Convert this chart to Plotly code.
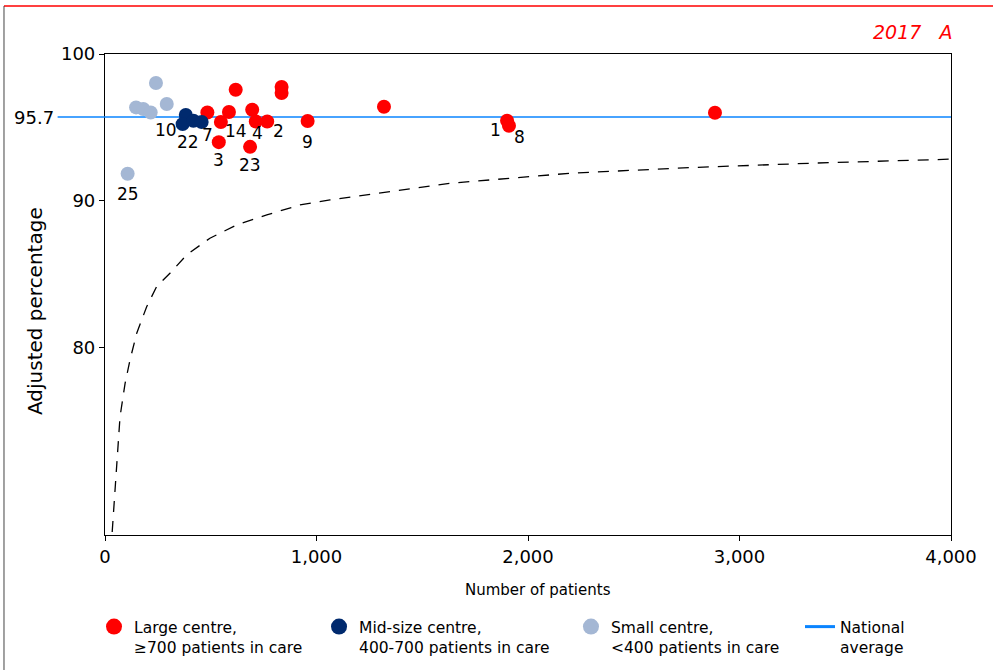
import plotly.graph_objects as go

# ---------------- data ----------------
NATIONAL_AVG = 95.7

large_x = [484, 548, 538, 618, 586, 696, 713, 767, 686, 835, 835, 958, 1319, 1901, 1910, 2884]
large_y = [96.01, 95.36, 93.99, 97.56, 96.04, 96.20, 95.40, 95.40, 93.67, 97.75, 97.34, 95.43, 96.40, 95.45, 95.11, 95.99]

mid_x = [382, 367, 418, 457]
mid_y = [95.84, 95.22, 95.45, 95.36]

small_x = [241, 147, 181, 216, 292, 107]
small_y = [98.02, 96.36, 96.25, 96.01, 96.59, 91.83]

# lower control limit (dashed curve)
limit_x = [34, 51, 71, 95, 118, 150, 197, 244, 307, 386, 496, 623, 765, 922, 1064, 1637, 2209, 2782, 3355, 4000]
limit_y = [67.41, 71.4, 75.26, 77.54, 79.13, 80.96, 82.77, 84.14, 85.05, 86.30, 87.44, 88.35, 89.03, 89.71, 90.05, 91.19, 91.88, 92.26, 92.56, 92.83]

# centre labels: text, anchor point
label_text = ["25", "10", "22", "7", "14", "4", "2", "3", "23", "9", "1", "8"]
label_x = [107, 367, 382, 484, 586, 713, 767, 538, 686, 958, 1901, 1910]
label_y = [91.83, 95.22, 95.84, 96.01, 96.04, 95.40, 95.40, 93.99, 93.67, 95.43, 95.45, 95.11]
label_dx = [0, -17, 2, 0, 7, 2, 11, 0, 0, 0, -12, 11]
label_dy = [-20, -6, -27, -22, -19, -12, -10, -18, -18, -21, -9, -11]

x_ticks = [0, 1000, 2000, 3000, 4000]
y_ticks = [80, 90, 100]

legend_names = ["Large centre,<br>≥700 patients in care",
                "Mid-size centre,<br>400-700 patients in care",
                "Small centre,<br><400 patients in care",
                "National<br>average"]

RED = "#ff0000"
NAVY = "#002a6e"
LIGHT = "#a4b7d4"
BLUE = "#0a84ff"
FONT = "DejaVu Sans"

fig = go.Figure()

fig.add_trace(go.Scatter(x=limit_x, y=limit_y, mode="lines", showlegend=False,
                         line=dict(color="black", width=1.3, dash="11px,9px"),
                         hoverinfo="skip"))

fig.add_trace(go.Scatter(x=[0, 4000], y=[NATIONAL_AVG, NATIONAL_AVG], mode="lines",
                         line=dict(color=BLUE, width=1.6), showlegend=False))

for xs, ys, col in [(large_x, large_y, RED), (mid_x, mid_y, NAVY), (small_x, small_y, LIGHT)]:
    fig.add_trace(go.Scatter(x=xs, y=ys, mode="markers", showlegend=False,
                             marker=dict(color=col, size=14)))

# legend entries (each in its own legend box, to match spacing)
legend_ids = ["legend", "legend2", "legend3", "legend4"]
for name, col, lid in zip(legend_names[:3], [RED, NAVY, LIGHT], legend_ids[:3]):
    fig.add_trace(go.Scatter(x=[None], y=[None], mode="markers", name=name, legend=lid,
                             marker=dict(color=col, size=16)))
fig.add_trace(go.Scatter(x=[None], y=[None], mode="lines", name=legend_names[3], legend=legend_ids[3],
                         line=dict(color=BLUE, width=3)))

for t, x, y, dx, dy in zip(label_text, label_x, label_y, label_dx, label_dy):
    fig.add_annotation(x=x, y=y, text=t, showarrow=False, xshift=dx, yshift=dy,
                       font=dict(family=FONT, size=17, color="black"))

# 95.7 label and extension of national line
fig.add_annotation(x=-0.058, xref="paper", y=NATIONAL_AVG, yref="y", text=str(NATIONAL_AVG),
                   showarrow=False, xanchor="right", yanchor="middle",
                   font=dict(family=FONT, size=18, color="black"))
fig.add_shape(type="line", xref="paper", yref="y", x0=-0.056, x1=0, y0=NATIONAL_AVG, y1=NATIONAL_AVG,
              line=dict(color=BLUE, width=1.6))

# axis titles
fig.add_annotation(x=-0.0827, xref="paper", y=0.4657, yref="paper", text="Adjusted percentage",
                   textangle=-90, showarrow=False, xanchor="center", yanchor="middle",
                   font=dict(family=FONT, size=20, color="black"))
fig.add_annotation(x=0.5118, xref="paper", y=-0.1143, yref="paper", text="Number of patients",
                   showarrow=False, xanchor="center", yanchor="middle",
                   font=dict(family=FONT, size=15, color="black"))

# corner title
fig.add_annotation(x=1.0035, xref="paper", y=1.045, yref="paper", text="2017\u00a0\u00a0\u00a0A",
                   showarrow=False, xanchor="right", yanchor="middle",
                   font=dict(family=FONT, size=19, color=RED, style="italic"))

# outer frame lines
fig.add_shape(type="line", xref="paper", yref="paper", x0=-0.1194, x1=1.06, y0=1.0998, y1=1.0998,
              line=dict(color=RED, width=1.5))
fig.add_shape(type="line", xref="paper", yref="paper", x0=-0.1194, x1=-0.1194, y0=1.0998, y1=-0.3,
              line=dict(color="#444444", width=1))

leg_common = dict(orientation="h", y=-0.156, yanchor="top", xanchor="left",
                  font=dict(family=FONT, size=15.5, color="black"), valign="top",
                  bgcolor="rgba(0,0,0,0)")

fig.update_layout(
    width=993, height=670,
    margin=dict(l=105, r=42, t=54, b=135, autoexpand=False),
    paper_bgcolor="white", plot_bgcolor="white",
    font=dict(family=FONT, size=18, color="black"),
    showlegend=True,
    legend=dict(x=-0.013, **leg_common),
    legend2=dict(x=0.253, **leg_common),
    legend3=dict(x=0.5508, **leg_common),
    legend4=dict(x=0.8215, **leg_common),
    xaxis=dict(range=[0, 4000], tickvals=x_ticks, tickformat=",", showgrid=False, zeroline=False,
               showline=True, linecolor="black", linewidth=1.2, mirror=True,
               ticks="outside", ticklen=5, tickcolor="black",
               tickfont=dict(family=FONT, size=18)),
    yaxis=dict(range=[67.2, 100], tickvals=y_ticks, showgrid=False, zeroline=False,
               showline=True, linecolor="black", linewidth=1.2, mirror=True,
               ticks="outside", ticklen=5, tickcolor="black",
               tickfont=dict(family=FONT, size=18)),
)

fig.write_html("out.html")
